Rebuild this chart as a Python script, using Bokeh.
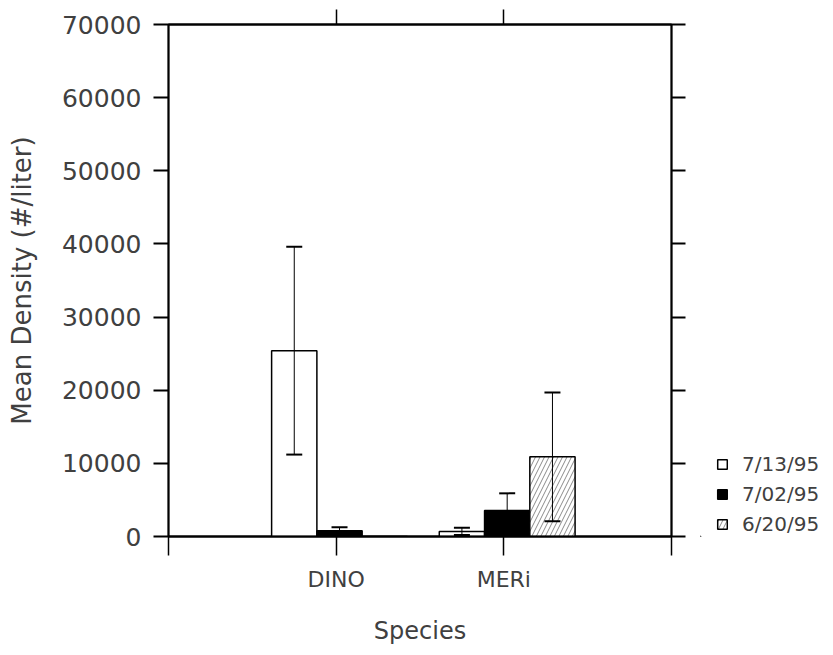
from bokeh.plotting import figure
from bokeh.layouts import row
from bokeh.models import (ColumnDataSource, LinearAxis, FixedTicker, Range1d,
                          Whisker, TeeHead, Legend, LegendItem)
from bokeh.embed import file_html
from bokeh.resources import INLINE

# ---- data ----
species = ["DINO", "MERi"]
dates = ["7/13/95", "7/02/95", "6/20/95"]
mean_0713 = [25400, 700]
mean_0702 = [800, 3550]
mean_0620 = [0, 10900]
err_0713 = [14200, 500]
err_0702 = [450, 2350]
err_0620 = [0, 8800]
y_ticks = [0, 10000, 20000, 30000, 40000, 50000, 60000, 70000]

means = [mean_0713, mean_0702, mean_0620]
errs = [err_0713, err_0702, err_0620]

TXT = "#404040"
FONT = "DejaVu Sans"

p = figure(width=700, height=655, output_backend="svg", toolbar_location=None,
           x_range=Range1d(0, len(species) + 1), y_range=Range1d(0, 70000),
           min_border_left=168, min_border_right=29, min_border_top=24,
           min_border_bottom=119, x_axis_location=None, y_axis_location=None,
           background_fill_color="white", border_fill_color="white")
p.grid.visible = False
p.outline_line_color = "black"
p.outline_line_width = 2

cat_x = [i + 1 for i in range(len(species))]
bar_w = 0.27
offsets = [-bar_w + 0.02, 0.02, bar_w + 0.02]

styles = [
    dict(fill_color="white"),
    dict(fill_color="black"),
    dict(fill_color="white", hatch_pattern="right_diagonal_line",
         hatch_color="#8a8a8a", hatch_scale=9, hatch_weight=1),
]

for k in range(len(dates)):
    xs = [c + offsets[k] for c in cat_x]
    src = ColumnDataSource(dict(x=xs, top=means[k]))
    p.vbar(x="x", top="top", width=bar_w, source=src,
           line_color="black", line_width=1.5, **styles[k])
    bx, up, lo = [], [], []
    for x, m, e in zip(xs, means[k], errs[k]):
        if e > 0:
            bx.append(x)
            up.append(m + e)
            lo.append(max(m - e, 0))
    wsrc = ColumnDataSource(dict(base=bx, upper=up, lower=lo))
    w = Whisker(base="base", upper="upper", lower="lower", source=wsrc,
                dimension="height", line_color="black", line_width=1,
                upper_head=TeeHead(size=16, line_width=2, line_color="black"),
                lower_head=TeeHead(size=16, line_width=2, line_color="black"),
                level="annotation")
    p.add_layout(w)

# ---- axes ----
left = LinearAxis(ticker=FixedTicker(ticks=y_ticks),
                  axis_label="Mean Density (#/liter)")
left.major_label_overrides = {t: str(t) for t in y_ticks}
left.major_label_text_font = FONT
left.major_label_text_font_size = "25px"
left.major_label_text_color = TXT
left.major_label_standoff = 12
left.axis_label_text_font = FONT
left.axis_label_text_font_size = "26px"
left.axis_label_text_font_style = "normal"
left.axis_label_text_color = TXT
left.axis_label_standoff = 22
left.major_tick_out = 15
left.major_tick_in = 0
left.minor_tick_line_color = None
left.axis_line_width = 1.5
left.major_tick_line_width = 2
p.add_layout(left, "left")

right = LinearAxis(ticker=FixedTicker(ticks=y_ticks))
right.major_label_overrides = {t: "" for t in y_ticks}
right.major_label_text_font_size = "0px"
right.major_label_standoff = 0
right.major_tick_out = 14
right.major_tick_in = 0
right.minor_tick_line_color = None
right.axis_line_width = 1.5
right.major_tick_line_width = 2
p.add_layout(right, "right")

x_ticks = [0] + cat_x + [len(species) + 1]
bottom = LinearAxis(ticker=FixedTicker(ticks=x_ticks), axis_label="Species")
ov = {t: "" for t in x_ticks}
for c, s in zip(cat_x, species):
    ov[c] = s
bottom.major_label_overrides = ov
bottom.major_label_text_font = FONT
bottom.major_label_text_font_size = "22px"
bottom.major_label_text_color = TXT
bottom.major_label_standoff = 11
bottom.axis_label_text_font = FONT
bottom.axis_label_text_font_size = "24px"
bottom.axis_label_text_font_style = "normal"
bottom.axis_label_text_color = TXT
bottom.axis_label_standoff = 22
bottom.major_tick_out = 19
bottom.major_tick_in = 0
bottom.minor_tick_line_color = None
bottom.axis_line_width = 2
bottom.major_tick_line_width = 1.5
p.add_layout(bottom, "below")

top = LinearAxis(ticker=FixedTicker(ticks=cat_x))
top.major_label_overrides = {c: "" for c in cat_x}
top.major_label_text_font_size = "0px"
top.major_label_standoff = 0
top.major_tick_out = 15
top.major_tick_in = 0
top.minor_tick_line_color = None
top.axis_line_width = 2
top.major_tick_line_width = 1.5
p.add_layout(top, "above")

# ---- legend panel (a second, axis-free figure to the right) ----
lg = figure(width=133, height=655, output_backend="svg", toolbar_location=None,
            x_range=Range1d(0, 1), y_range=Range1d(0, 1),
            min_border=0, x_axis_location=None, y_axis_location=None,
            background_fill_color="white", border_fill_color="white")
lg.grid.visible = False
lg.outline_line_color = None
dummies = []
for k in range(len(dates)):
    # one point far outside the ranges so the legend swatch has values to draw with
    dummies.append(lg.vbar(x=[-50], top=[-50], bottom=-60, width=0.1,
                           line_color="black", line_width=1.5, **styles[k]))

legend = Legend(items=[LegendItem(label=d, renderers=[r]) for d, r in zip(dates, dummies)],
                location=(16, 0), orientation="vertical",
                glyph_width=12, glyph_height=12, label_height=24, spacing=6,
                label_standoff=14, padding=0, margin=0,
                label_text_font=FONT, label_text_font_size="20px",
                label_text_color=TXT, border_line_color=None,
                background_fill_alpha=0)
lg.add_layout(legend, "center")

layout = row(p, lg, spacing=0)
open("out.html", "w").write(file_html(layout, INLINE))
